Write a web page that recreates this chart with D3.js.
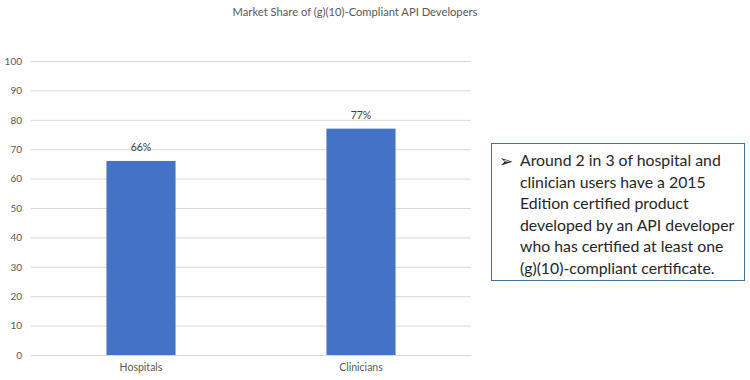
<!DOCTYPE html>
<html>
<head>
<meta charset="utf-8">
<script src="https://cdn.jsdelivr.net/npm/d3@7"></script>
<style>
  body { margin: 0; background: #fff; }
  svg { display: block; }
</style>
</head>
<body>
<svg id="chart" width="750" height="380"></svg>
<script>
// chart data
var categories = ["Hospitals", "Clinicians"];
var shares = [66, 77];
var valueLabels = ["66%", "77%"];
var yTicks = [0, 10, 20, 30, 40, 50, 60, 70, 80, 90, 100];
var noteLines = [
    "Around 2 in 3 of hospital and",
    "clinician users have a 2015",
    "Edition certified product",
    "developed by an API developer",
    "who has certified at least one",
    "(g)(10)-compliant certificate."
];

window.onload = function(){
    drawChart();
    drawNote();
};

function drawChart(){
    let svg = d3.select("#chart");
    let left = 31, right = 471, top = 61, bottom = 355;

    let xScale = d3.scaleBand()
        .domain(categories)
        .range([left, right])
        .paddingInner(0.686)
        .paddingOuter(0.343);

    let yScale = d3.scaleLinear()
        .domain([0, 100])
        .range([bottom, top]);

    // title
    svg.append("text")
        .attr("x", 355).attr("y", 16)
        .attr("text-anchor", "middle")
        .attr("font-family", "Lato, sans-serif")
        .attr("font-size", 11.2)
        .attr("fill", "#595959")
        .text("Market Share of (g)(10)-Compliant API Developers");

    // gridlines + y labels
    let yAxis = d3.axisLeft(yScale)
        .tickValues(yTicks)
        .tickSize(-(right - left))
        .tickPadding(9);
    let g = svg.append("g")
        .attr("transform", "translate(" + left + ",0)")
        .call(yAxis);
    g.select(".domain").remove();
    g.selectAll(".tick line").attr("stroke", "#d9d9d9").attr("stroke-width", 1);
    g.selectAll(".tick text")
        .attr("fill", "#595959")
        .attr("font-family", "Lato, sans-serif")
        .attr("font-size", 10);

    // bars
    svg.selectAll("rect.bar").data(shares)
        .enter()
        .append("rect")
        .attr("class", "bar")
        .attr("x", function(d, i){ return xScale(categories[i]); })
        .attr("y", function(d){ return yScale(d); })
        .attr("width", xScale.bandwidth())
        .attr("height", function(d){ return yScale(0) - yScale(d); })
        .attr("fill", "#4472c4");

    // value labels
    svg.selectAll("text.val").data(shares)
        .enter()
        .append("text")
        .attr("class", "val")
        .attr("x", function(d, i){ return xScale(categories[i]) + xScale.bandwidth() / 2; })
        .attr("y", function(d){ return yScale(d) - 10; })
        .attr("text-anchor", "middle")
        .attr("font-family", "Lato, sans-serif")
        .attr("font-size", 10.5)
        .attr("fill", "#404040")
        .text(function(d, i){ return valueLabels[i]; });

    // x axis line + category labels
    let xAxis = d3.axisBottom(xScale).tickSize(0).tickPadding(9);
    let xg = svg.append("g")
        .attr("transform", "translate(0," + bottom + ")")
        .call(xAxis);
    xg.select(".domain").attr("stroke", "#d9d9d9");
    xg.selectAll(".tick text")
        .attr("fill", "#595959")
        .attr("font-family", "Lato, sans-serif")
        .attr("font-size", 10.5);
}

function drawNote(){
    let svg = d3.select("#chart");
    svg.append("rect")
        .attr("x", 491.5).attr("y", 143.5)
        .attr("width", 253).attr("height", 137)
        .attr("fill", "#fff")
        .attr("stroke", "#41719c")
        .attr("stroke-width", 1);

    svg.append("text")
        .attr("x", 499).attr("y", 167)
        .attr("font-family", "DejaVu Sans, sans-serif")
        .attr("font-size", 17)
        .attr("fill", "#262626")
        .text("\u27A2");

    svg.selectAll("text.note").data(noteLines)
        .enter()
        .append("text")
        .attr("class", "note")
        .attr("x", 520)
        .attr("y", function(d, i){ return 166 + i * 21.6; })
        .attr("font-family", "Lato, sans-serif")
        .attr("font-size", 15.8)
        .attr("fill", "#262626")
        .text(function(d){ return d; });
}
</script>
</body>
</html>
